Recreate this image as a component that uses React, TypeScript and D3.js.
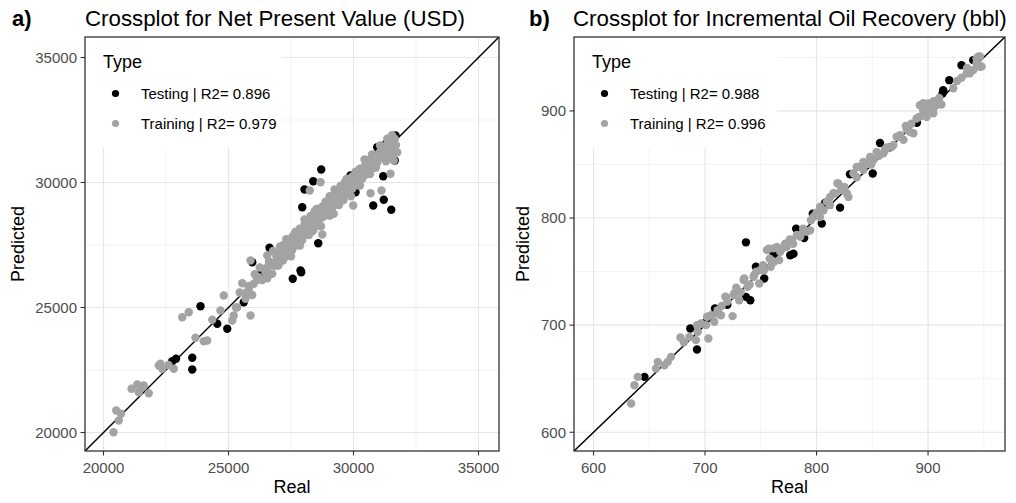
import React from "react";
import * as d3 from "d3";

type Pt = [number, number];

// ---------- Panel a) Net Present Value ----------
const npvTicks = [20000, 25000, 30000, 35000];
const npvMinorTicks = [22500, 27500, 32500];
const npvDomain: [number, number] = [19260, 35820];
const npvLegend = ["Testing | R2= 0.896", "Training | R2= 0.979"];

const npvTesting: Pt[] = [
  [22750, 22850], [22900, 22950], [23550, 22990], [23550, 22520], [23880, 25050],
  [24550, 24350], [24950, 24150], [25610, 25210], [25950, 26810], [26640, 27390],
  [27570, 26150], [27880, 26480], [27910, 26410], [28590, 27570], [27950, 29010],
  [28040, 29720], [28390, 30050], [28710, 30520], [29880, 30280], [30080, 29610],
  [30550, 30880], [30950, 31410], [31680, 31880], [31650, 30880], [31190, 30250],
  [30790, 29080], [31210, 29310], [31510, 28910], [29100, 29200], [27200, 27100],
  [26300, 26400], [29600, 29500], [30300, 30400], [31300, 31550], [31500, 31700],
];

const npvTraining: Pt[] = [
  [20400, 20010], [20510, 20880], [20610, 20480], [20700, 20750],
  [21120, 21750], [21350, 21920], [21410, 21610], [21610, 21880], [21810, 21570], [21500, 21800],
  [22210, 22680], [22350, 22550], [22280, 22750], [22810, 22550], [22600, 22700],
  [23150, 24610], [23410, 24810], [23680, 23790], [24010, 23650], [24150, 23680],
  [24350, 24510], [24680, 24880], [24810, 25480], [25150, 24480], [25210, 24680],
  [25350, 25010], [25680, 25350], [25880, 24680], [25880, 26880], [25810, 25750],
  [26010, 25950], [26210, 26210], [26480, 26410], [26550, 27080], [26880, 26750],
  [27150, 27010], [27410, 27480], [26750, 26350],
  [25300, 25000], [25450, 25600], [25550, 25970], [25700, 25580], [25800, 25860],
  [25950, 25500], [26050, 26330], [26150, 26100], [26250, 26600], [26350, 26100],
  [26450, 26550], [26550, 26170], [26620, 26840], [26700, 26700], [26780, 27260],
  [26850, 26670], [26920, 27050], [27000, 26680], [27060, 27440], [27120, 27040],
  [27180, 26880], [27250, 27400], [27310, 27730], [27370, 27250], [27430, 27490],
  [27500, 27050], [27560, 27840], [27620, 27570], [27680, 28030], [27740, 27490],
  [27800, 27900], [27860, 27480], [27920, 28140], [27980, 27980], [28040, 28520],
  [28100, 27920], [28160, 28290], [28220, 27900], [28280, 28660], [28340, 28260],
  [28400, 28100], [28460, 28610], [28520, 28940], [28580, 28460], [28640, 28700],
  [28700, 28250], [28760, 29040], [28820, 28770], [28880, 29230], [28940, 28690],
  [29000, 29100], [29060, 28680], [29120, 29340], [29180, 29180], [29240, 29720],
  [29300, 29120], [29360, 29490], [29420, 29100], [29480, 29860], [29540, 29460],
  [29600, 29300], [29660, 29810], [29720, 30140], [29780, 29660], [29840, 29900],
  [29900, 29450], [29960, 30240], [30020, 29970], [30080, 30430], [30140, 29890],
  [30200, 30300], [30260, 29880], [30320, 30540], [30380, 30380], [30440, 30920],
  [30500, 30320], [30580, 30710], [30660, 30340], [30740, 31120], [30820, 30740],
  [30900, 30600], [30980, 31130], [31060, 31480], [31140, 31020], [31220, 31280],
  [31300, 30850], [31380, 31660], [31460, 31410], [31540, 31890], [31620, 31370],
  [27100, 27250], [27400, 27350], [27700, 27750], [28000, 28150], [28300, 28350],
  [28600, 28550], [28900, 28950], [29200, 29250], [29500, 29600], [29800, 29750],
  [30100, 30150], [30400, 30450], [26900, 26850], [26600, 26650], [30700, 30750],
  [31000, 30950], [31300, 31250], [31600, 31650],
  [26950, 27150], [27050, 26900], [27200, 27500], [27300, 27050], [27450, 27700],
  [27550, 27300], [27650, 27950], [27750, 27650], [27850, 28150], [27950, 27700],
  [28050, 28350], [28150, 28050], [28250, 28450], [28350, 28050], [28450, 28850],
  [28550, 28300], [28650, 28950], [28750, 28600], [28850, 29050], [28950, 28850],
  [29050, 29450], [29150, 29000], [29250, 29550], [29350, 29250], [29450, 29650],
  [29550, 29300], [29650, 30000], [29750, 29550], [29850, 30150], [29950, 29750],
  [30050, 30200], [30150, 30000], [30250, 30550], [30350, 30150], [30450, 30650],
  [30550, 30450], [30650, 30900], [30750, 30550], [30850, 31050], [30950, 30800],
  [31050, 31200], [31150, 31350], [31250, 31100], [31350, 31550], [31450, 31250],
  [31550, 31450], [31650, 31750],
  [28680, 30010], [28250, 29680], [30680, 29570], [31120, 29680], [31480, 30350],
  [29990, 29080], [28750, 27920], [29210, 28750], [31610, 30880], [31750, 31210],
  [31350, 31750], [31480, 31550], [31600, 31300], [31700, 31500], [31550, 31000],
];

// ---------- Panel b) Incremental Oil Recovery ----------
const oilTicks = [600, 700, 800, 900];
const oilMinorTicks = [650, 750, 850, 950];
const oilDomain: [number, number] = [582.5, 969];
const oilLegend = ["Testing | R2= 0.988", "Training | R2= 0.996"];

const oilTesting: Pt[] = [
  [645.7, 651.7], [686.8, 696.8], [692.8, 677.2], [708.9, 715.5], [736.7, 726.4],
  [740.6, 723.3], [745.6, 754.5], [753.1, 743.6], [736.7, 777.3], [776.4, 765.2],
  [779.3, 766.7], [781.7, 790.1], [788.9, 781.4], [796.6, 804.1], [804.7, 794.8],
  [807.7, 814.4], [821.1, 809.7], [830, 840.9], [850.4, 841.5], [856.9, 870.1],
  [913.6, 919.4], [913, 916.2], [919, 928.7], [930, 942.7], [940.5, 947.4],
  [761.4, 767.3], [720, 719], [700, 702], [866, 866], [890, 889],
];

const oilTraining: Pt[] = [
  [633.7, 626.8], [636.7, 643.9], [639.7, 651.7], [657.6, 665.7], [656.1, 659.5],
  [663.6, 662.6], [669.5, 670.4], [666.5, 665.7], [677.9, 688.4], [691.9, 686],
  [693.4, 693.7], [696.4, 701.5], [703, 687.5], [705.3, 709.3], [711.3, 714],
  [714.3, 709.3], [718.8, 726.4], [724.7, 708.4], [726.2, 729.6], [730.7, 723.3],
  [735.2, 743.6], [738.2, 735.8], [744.1, 746.7], [748.6, 738.9], [753.1, 751.4],
  [759, 754.5], [762, 759.1], [766.5, 760.7], [708.3, 703.1], [700.9, 700],
  [692.8, 700], [701.8, 707.8], [710.7, 710.9], [718.2, 726.5], [725.6, 728],
  [734.6, 742.1], [743.5, 745.2], [749.5, 751.4], [755.5, 770.1], [761.4, 771.7],
  [767.4, 768.5], [773.4, 773.2], [782.3, 784.1], [785.3, 782.6], [791.3, 787.2],
  [797.2, 801.3], [803.2, 810.6], [809.2, 815.3], [818.7, 832.4], [815.2, 823.1],
  [827.1, 823.1], [833.1, 841.8], [839, 848], [845, 851.1], [851, 854.2],
  [859.9, 860.4], [868.9, 868.2], [874.8, 876], [880.8, 882.3], [886.8, 879.1],
  [892.7, 894.7], [898.7, 901], [904.7, 897.8], [907.7, 905.6], [895.7, 907.2],
  [922.6, 921.2], [937.5, 935.2], [943.5, 944.6], [946.5, 950.8], [948, 941.4],
  [757, 771.4], [764.4, 773], [771.9, 776], [777.8, 779.2], [785.3, 783.9],
  [794.3, 788.5], [806.2, 807.2], [812.2, 819.7], [819.6, 832.1], [816.6, 822.8],
  [828.6, 819.7], [836.1, 847.7], [842, 852.4], [848, 857.1], [853.9, 861.7],
  [861.4, 863.3], [867.4, 866.4], [871.8, 875.8], [874.8, 877.3], [883.8, 880.4],
  [889.7, 892.9], [895.7, 900.7], [900.2, 906.9], [904.7, 902.2], [909.1, 908.5],
  [892.7, 905.3], [898.7, 894.4], [934.5, 934.9], [940.5, 938.1], [943.5, 948.9],
  [946.4, 941.2], [944.9, 950.5],
  [720, 722], [728, 735], [740, 738], [752, 756], [758, 762], [770, 772],
  [776, 780], [788, 790], [795, 798], [800, 805], [812, 812], [822, 826],
  [836, 838], [842, 845], [856, 858], [863, 866], [878, 873], [885, 888],
  [902, 903], [910, 912], [930, 931], [935, 940], [912, 906], [905, 909],
  [681, 684], [686, 689], [715, 718], [732, 731], [746, 750], [779, 776],
  [803, 801], [825, 829], [849, 850], [880, 886], [897, 897], [926, 928],
];

const FONT = "'Liberation Sans', Arial, Helvetica, sans-serif";
const GRAY_PT = "#a3a3a3";

type PanelProps = {
  x0: number; y0: number; w: number; h: number;
  domain: [number, number];
  ticks: number[]; minor: number[];
  testing: Pt[]; training: Pt[];
  letter: string; letterX: number; title: string; titleX: number;
  legend: string[]; legendW: number; yTitleX: number;
};

function Panel(p: PanelProps) {
  const xs = d3.scaleLinear().domain(p.domain).range([p.x0, p.x0 + p.w]);
  const ys = d3.scaleLinear().domain(p.domain).range([p.y0 + p.h, p.y0]);
  const fmt = d3.format("d");
  const clipId = "clip-" + p.letter.replace(")", "");
  const x1 = p.x0 + p.w;
  const y1 = p.y0 + p.h;
  return (
    <g>
      <defs>
        <clipPath id={clipId}>
          <rect x={p.x0} y={p.y0} width={p.w} height={p.h} />
        </clipPath>
      </defs>
      <rect x={p.x0} y={p.y0} width={p.w} height={p.h} fill="#fff" />
      {p.minor.map((t) => (
        <g key={"m" + t}>
          <line x1={xs(t)} x2={xs(t)} y1={p.y0} y2={y1} stroke="#f0f0f0" strokeWidth={0.8} />
          <line x1={p.x0} x2={x1} y1={ys(t)} y2={ys(t)} stroke="#f0f0f0" strokeWidth={0.8} />
        </g>
      ))}
      {p.ticks.map((t) => (
        <g key={"g" + t}>
          <line x1={xs(t)} x2={xs(t)} y1={p.y0} y2={y1} stroke="#e6e6e6" strokeWidth={1.2} />
          <line x1={p.x0} x2={x1} y1={ys(t)} y2={ys(t)} stroke="#e6e6e6" strokeWidth={1.2} />
        </g>
      ))}
      <rect x={p.x0 + 1} y={p.y0 + 1} width={p.legendW} height={110} fill="#fff" />
      <g clipPath={`url(#${clipId})`}>
        <line
          x1={xs(p.domain[0])} y1={ys(p.domain[0])}
          x2={xs(p.domain[1])} y2={ys(p.domain[1])}
          stroke="#000" strokeWidth={1.5}
        />
        {p.testing.map((d, i) => (
          <circle key={"te" + i} cx={xs(d[0])} cy={ys(d[1])} r={4.2} fill="#000" />
        ))}
        {p.training.map((d, i) => (
          <circle key={"tr" + i} cx={xs(d[0])} cy={ys(d[1])} r={4.2} fill={GRAY_PT} />
        ))}
      </g>
      <rect x={p.x0} y={p.y0} width={p.w} height={p.h} fill="none" stroke="#333" strokeWidth={1.3} />
      {p.ticks.map((t) => (
        <g key={"t" + t}>
          <line x1={xs(t)} x2={xs(t)} y1={y1} y2={y1 + 4.5} stroke="#333" strokeWidth={1.1} />
          <text x={xs(t)} y={y1 + 22} textAnchor="middle" fontSize={15} fill="#4d4d4d" fontFamily={FONT}>
            {fmt(t)}
          </text>
          <line x1={p.x0 - 4.5} x2={p.x0} y1={ys(t)} y2={ys(t)} stroke="#333" strokeWidth={1.1} />
          <text x={p.x0 - 8} y={ys(t) + 5.3} textAnchor="end" fontSize={15} fill="#4d4d4d" fontFamily={FONT}>
            {fmt(t)}
          </text>
        </g>
      ))}
      <text x={(p.x0 + x1) / 2} y={493} textAnchor="middle" fontSize={18} fill="#000" fontFamily={FONT}>
        Real
      </text>
      <text
        transform={`translate(${p.yTitleX},${(p.y0 + y1) / 2}) rotate(-90)`}
        textAnchor="middle" fontSize={18} fill="#000" fontFamily={FONT}
      >
        Predicted
      </text>
      <text x={p.letterX} y={26} fontSize={22} fontWeight="bold" fill="#000" fontFamily={FONT}>
        {p.letter}
      </text>
      <text x={p.titleX} y={26} fontSize={22.3} fill="#000" fontFamily={FONT}>
        {p.title}
      </text>
      <text x={p.x0 + 18} y={68} fontSize={18} fill="#000" fontFamily={FONT}>Type</text>
      <circle cx={p.x0 + 30.5} cy={93.5} r={3.6} fill="#000" />
      <text x={p.x0 + 56} y={98.8} fontSize={15} fill="#000" fontFamily={FONT}>{p.legend[0]}</text>
      <circle cx={p.x0 + 30.5} cy={123.5} r={3.6} fill={GRAY_PT} />
      <text x={p.x0 + 56} y={128.8} fontSize={15} fill="#000" fontFamily={FONT}>{p.legend[1]}</text>
    </g>
  );
}

export default function App() {
  return (
    <svg
      width={1016}
      height={503}
      style={{ position: "absolute", left: 0, top: 0, background: "#fff" }}
    >
      <rect x={0} y={0} width={1016} height={503} fill="#fff" />
      <Panel
        x0={85} y0={37} w={414} h={414}
        domain={npvDomain} ticks={npvTicks} minor={npvMinorTicks}
        testing={npvTesting} training={npvTraining}
        letter="a)" letterX={12} title="Crossplot for Net Present Value (USD)" titleX={85}
        legend={npvLegend} legendW={196} yTitleX={24}
      />
      <Panel
        x0={574} y0={37} w={431} h={414}
        domain={oilDomain} ticks={oilTicks} minor={oilMinorTicks}
        testing={oilTesting} training={oilTraining}
        letter="b)" letterX={529} title="Crossplot for Incremental Oil Recovery (bbl)" titleX={573}
        legend={oilLegend} legendW={202} yTitleX={529}
      />
    </svg>
  );
}
